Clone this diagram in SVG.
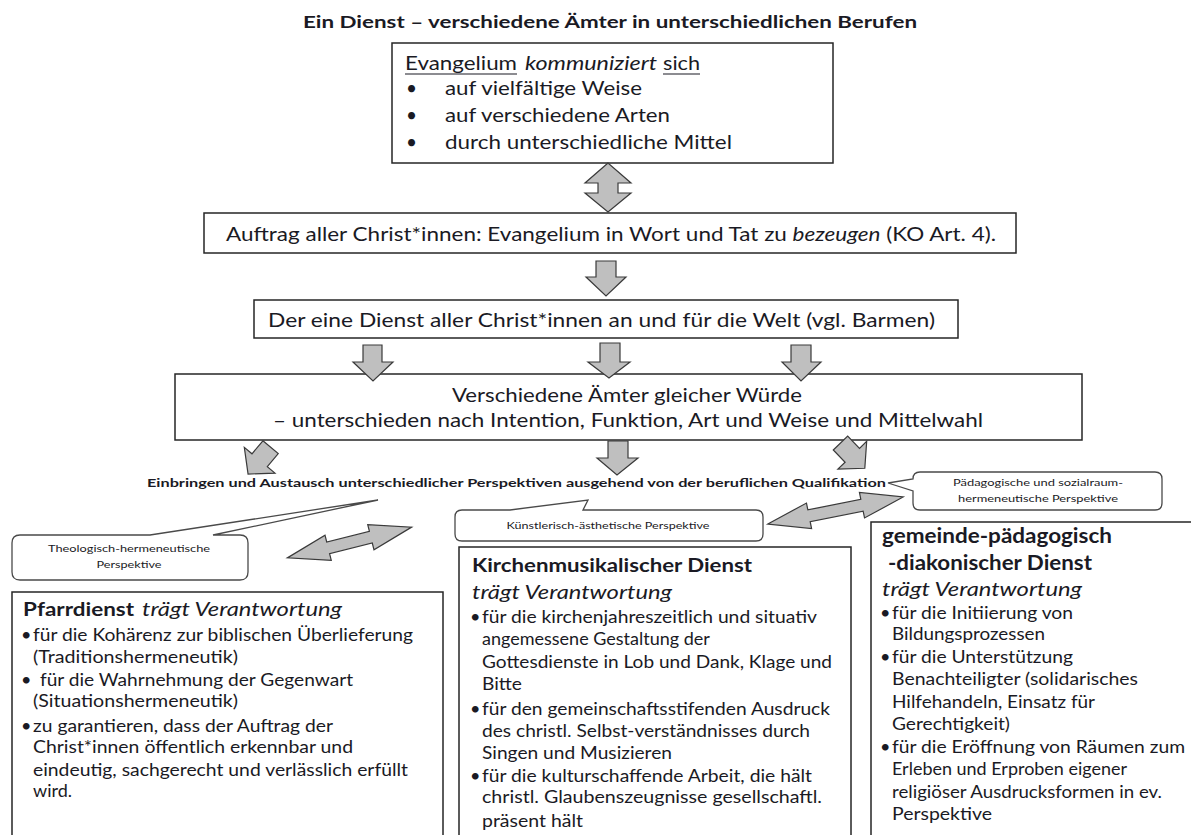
<svg xmlns="http://www.w3.org/2000/svg" width="1191" height="835" viewBox="0 0 1191 835">
<style>
.t{font-family:Lato,"Open Sans","Noto Sans",sans-serif;fill:#1a1a24;}
.b{font-weight:bold;}
.i{font-style:italic;}
.box{fill:#fff;stroke:#262626;stroke-width:1.5;}
.call{fill:#fff;stroke:#4a4a4a;stroke-width:1.3;}
.arr{fill:#bfbfbf;stroke:#3a3a3a;stroke-width:1.2;stroke-linejoin:miter;}
.ul{stroke:#1a1a24;stroke-width:1.2;}
.m{font-size:19px;}
.s{font-size:18px;}
.c{font-size:9.5px;text-anchor:middle;}
</style>
<rect width="1191" height="835" fill="#fff"/>

<g id="title">
<text class="t b" x="303" y="28" font-size="17" textLength="614" lengthAdjust="spacingAndGlyphs">Ein Dienst – verschiedene Ämter in unterschiedlichen Berufen</text>
</g>

<g id="node-evangelium">
<rect class="box" x="392" y="43" width="441" height="120"/>
<text class="t m" x="405" y="70" textLength="112" lengthAdjust="spacingAndGlyphs">Evangelium</text>
<text class="t m i" x="525" y="70" textLength="132" lengthAdjust="spacingAndGlyphs">kommuniziert</text>
<text class="t m" x="663" y="70" textLength="37" lengthAdjust="spacingAndGlyphs">sich</text>
<line class="ul" x1="405" y1="74" x2="517" y2="74"/>
<line class="ul" x1="663" y1="74" x2="700" y2="74"/>
<text class="t m" x="406" y="95">•</text>
<text class="t m" x="445" y="95" textLength="197" lengthAdjust="spacingAndGlyphs">auf vielfältige Weise</text>
<text class="t m" x="406" y="122">•</text>
<text class="t m" x="445" y="122" textLength="225" lengthAdjust="spacingAndGlyphs">auf verschiedene Arten</text>
<text class="t m" x="406" y="149">•</text>
<text class="t m" x="445" y="149" textLength="287" lengthAdjust="spacingAndGlyphs">durch unterschiedliche Mittel</text>
</g>

<g id="node-auftrag">
<rect class="box" x="204" y="213" width="812" height="40"/>
<text class="t m" x="226" y="241" textLength="770" lengthAdjust="spacingAndGlyphs">Auftrag aller Christ*innen: Evangelium in Wort und Tat zu <tspan class="i">bezeugen</tspan> (KO Art. 4).</text>
</g>

<g id="node-dienst">
<rect class="box" x="254" y="300" width="704" height="38"/>
<text class="t m" x="268" y="327" textLength="667" lengthAdjust="spacingAndGlyphs">Der eine Dienst aller Christ*innen an und für die Welt (vgl. Barmen)</text>
</g>

<g id="node-aemter">
<rect class="box" x="175" y="374" width="907" height="66"/>
<text class="t m" x="452" y="402" textLength="350" lengthAdjust="spacingAndGlyphs">Verschiedene Ämter gleicher Würde</text>
<text class="t m" x="273" y="427" textLength="710" lengthAdjust="spacingAndGlyphs">– unterschieden nach Intention, Funktion, Art und Weise und Mittelwahl</text>
</g>

<g id="node-einbringen">
<text class="t b" x="147" y="487" font-size="12" textLength="739" lengthAdjust="spacingAndGlyphs">Einbringen und Austausch unterschiedlicher Perspektiven ausgehend von der beruflichen Qualifikation</text>
</g>

<g id="node-theologisch">
<path class="call" d="M20,535 H150 L378,500 L213,535 H240 Q248,535 248,543 V572 Q248,580 240,580 H20 Q12,580 12,572 V543 Q12,535 20,535 Z"/>
<text class="t c" x="129" y="552" textLength="162" lengthAdjust="spacingAndGlyphs">Theologisch-hermeneutische</text>
<text class="t c" x="129" y="568" textLength="65" lengthAdjust="spacingAndGlyphs">Perspektive</text>
</g>

<g id="node-kuenstlerisch">
<path class="call" d="M462,510 H510 L588,500 L583,510 H756 Q763,510 763,517 V534 Q763,541 756,541 H462 Q455,541 455,534 V517 Q455,510 462,510 Z"/>
<text class="t c" x="608" y="529" textLength="203" lengthAdjust="spacingAndGlyphs">Künstlerisch-ästhetische Perspektive</text>
</g>

<g id="node-paedagogisch">
<path class="call" d="M920,472 H1155 Q1162,472 1162,479 V503 Q1162,510 1155,510 H920 Q913,510 913,503 V491 L888,483 L913,479 Q913,472 920,472 Z"/>
<text class="t c" x="1038" y="486" textLength="170" lengthAdjust="spacingAndGlyphs">Pädagogische und sozialraum-</text>
<text class="t c" x="1038" y="502" textLength="160" lengthAdjust="spacingAndGlyphs">hermeneutische Perspektive</text>
</g>

<g id="node-pfarrdienst">
<rect class="box" x="12" y="592" width="431" height="260"/>
<text class="t b" x="23" y="616" font-size="19" textLength="111" lengthAdjust="spacingAndGlyphs">Pfarrdienst</text>
<text class="t i" x="142" y="616" font-size="19" textLength="200" lengthAdjust="spacingAndGlyphs">trägt Verantwortung</text>
<text class="t s" x="21" y="641">•</text>
<text class="t s" x="33" y="641" textLength="380" lengthAdjust="spacingAndGlyphs">für die Kohärenz zur biblischen Überlieferung</text>
<text class="t s" x="33" y="663" textLength="205" lengthAdjust="spacingAndGlyphs">(Traditionshermeneutik)</text>
<text class="t s" x="21" y="686">•</text>
<text class="t s" x="40" y="686" textLength="313" lengthAdjust="spacingAndGlyphs">für die Wahrnehmung der Gegenwart</text>
<text class="t s" x="33" y="707" textLength="205" lengthAdjust="spacingAndGlyphs">(Situationshermeneutik)</text>
<text class="t s" x="21" y="732">•</text>
<text class="t s" x="33" y="732" textLength="300" lengthAdjust="spacingAndGlyphs">zu garantieren, dass der Auftrag der</text>
<text class="t s" x="33" y="753" textLength="320" lengthAdjust="spacingAndGlyphs">Christ*innen öffentlich erkennbar und</text>
<text class="t s" x="33" y="776" textLength="375" lengthAdjust="spacingAndGlyphs">eindeutig, sachgerecht und verlässlich erfüllt</text>
<text class="t s" x="33" y="797" textLength="39" lengthAdjust="spacingAndGlyphs">wird.</text>
</g>

<g id="node-kirchenmusik">
<rect class="box" x="459" y="547" width="392" height="305"/>
<text class="t b" x="472" y="572" font-size="19" textLength="280" lengthAdjust="spacingAndGlyphs">Kirchenmusikalischer Dienst</text>
<text class="t i" x="472" y="599" font-size="19" textLength="200" lengthAdjust="spacingAndGlyphs">trägt Verantwortung</text>
<text class="t s" x="470" y="623">•</text>
<text class="t s" x="482" y="623" textLength="335" lengthAdjust="spacingAndGlyphs">für die kirchenjahreszeitlich und situativ</text>
<text class="t s" x="482" y="645">angemessene Gestaltung der</text>
<text class="t s" x="482" y="668" textLength="350" lengthAdjust="spacingAndGlyphs">Gottesdienste in Lob und Dank, Klage und</text>
<text class="t s" x="482" y="690" textLength="40" lengthAdjust="spacingAndGlyphs">Bitte</text>
<text class="t s" x="470" y="715">•</text>
<text class="t s" x="482" y="715" textLength="348" lengthAdjust="spacingAndGlyphs">für den gemeinschaftsstifenden Ausdruck</text>
<text class="t s" x="482" y="737" textLength="328" lengthAdjust="spacingAndGlyphs">des christl. Selbst-verständnisses durch</text>
<text class="t s" x="482" y="759" textLength="190" lengthAdjust="spacingAndGlyphs">Singen und Musizieren</text>
<text class="t s" x="470" y="782">•</text>
<text class="t s" x="482" y="782" textLength="330" lengthAdjust="spacingAndGlyphs">für die kulturschaffende Arbeit, die hält</text>
<text class="t s" x="482" y="803" textLength="340" lengthAdjust="spacingAndGlyphs">christl. Glaubenszeugnisse gesellschaftl.</text>
<text class="t s" x="482" y="827" textLength="101" lengthAdjust="spacingAndGlyphs">präsent hält</text>
</g>

<g id="node-gemeinde">
<rect class="box" x="871" y="522" width="330" height="330"/>
<text class="t b" x="882" y="543" font-size="20" textLength="230" lengthAdjust="spacingAndGlyphs">gemeinde-pädagogisch</text>
<text class="t b" x="888" y="570" font-size="20" textLength="204" lengthAdjust="spacingAndGlyphs">-diakonischer Dienst</text>
<text class="t i" x="882" y="596" font-size="19" textLength="200" lengthAdjust="spacingAndGlyphs">trägt Verantwortung</text>
<text class="t s" x="880" y="619">•</text>
<text class="t s" x="892" y="619" textLength="181" lengthAdjust="spacingAndGlyphs">für die Initiierung von</text>
<text class="t s" x="892" y="640" textLength="153" lengthAdjust="spacingAndGlyphs">Bildungsprozessen</text>
<text class="t s" x="880" y="663">•</text>
<text class="t s" x="892" y="663" textLength="181" lengthAdjust="spacingAndGlyphs">für die Unterstützung</text>
<text class="t s" x="892" y="685" textLength="246" lengthAdjust="spacingAndGlyphs">Benachteiligter (solidarisches</text>
<text class="t s" x="892" y="708" textLength="203" lengthAdjust="spacingAndGlyphs">Hilfehandeln, Einsatz für</text>
<text class="t s" x="892" y="730" textLength="118" lengthAdjust="spacingAndGlyphs">Gerechtigkeit)</text>
<text class="t s" x="880" y="753">•</text>
<text class="t s" x="892" y="753" textLength="293" lengthAdjust="spacingAndGlyphs">für die Eröffnung von Räumen zum</text>
<text class="t s" x="892" y="775" textLength="235" lengthAdjust="spacingAndGlyphs">Erleben und Erproben eigener</text>
<text class="t s" x="892" y="798" textLength="270" lengthAdjust="spacingAndGlyphs">religiöser Ausdrucksformen in ev.</text>
<text class="t s" x="892" y="820" textLength="100" lengthAdjust="spacingAndGlyphs">Perspektive</text>
</g>

<g id="connectors">
<polygon class="arr" points="608,163 585,183 598,183 598,193 585,193 608,212 631,193 618,193 618,183 631,183"/>
<polygon class="arr" points="596,261 616,261 616,277 626,277 606,296 586,277 596,277"/>
<polygon class="arr" points="363,345 382,345 382,362 393,362 373,381 353,362 363,362"/>
<polygon class="arr" points="600,343 620,343 620,362 630,362 609,378 588,362 600,362"/>
<polygon class="arr" points="791,345 811,345 811,362 821,362 801,381 782,362 791,362"/>
<polygon class="arr" points="608,441 628,441 628,458 638,458 617,475 597,458 608,458"/>
<path class="arr" transform="translate(259,461) rotate(40)" d="M-10,-18 H10 V-1 H20 L0,17 L-20,-1 H-10 Z"/>
<path class="arr" transform="translate(853,456) rotate(-44)" d="M-10,-18 H10 V-1 H20 L0,17 L-20,-1 H-10 Z"/>
<path class="arr" transform="translate(349.5,542.5) rotate(-13.9)" d="M-64,0 L-22,-13 L-22,-6 L22,-6 L22,-13 L64,0 L22,13 L22,6 L-22,6 L-22,13 Z"/>
<path class="arr" transform="translate(835.5,510.5) rotate(-11.3)" d="M-69,0 L-27,-13 L-27,-6 L27,-6 L27,-13 L69,0 L27,13 L27,6 L-27,6 L-27,13 Z"/>
</g>
</svg>
